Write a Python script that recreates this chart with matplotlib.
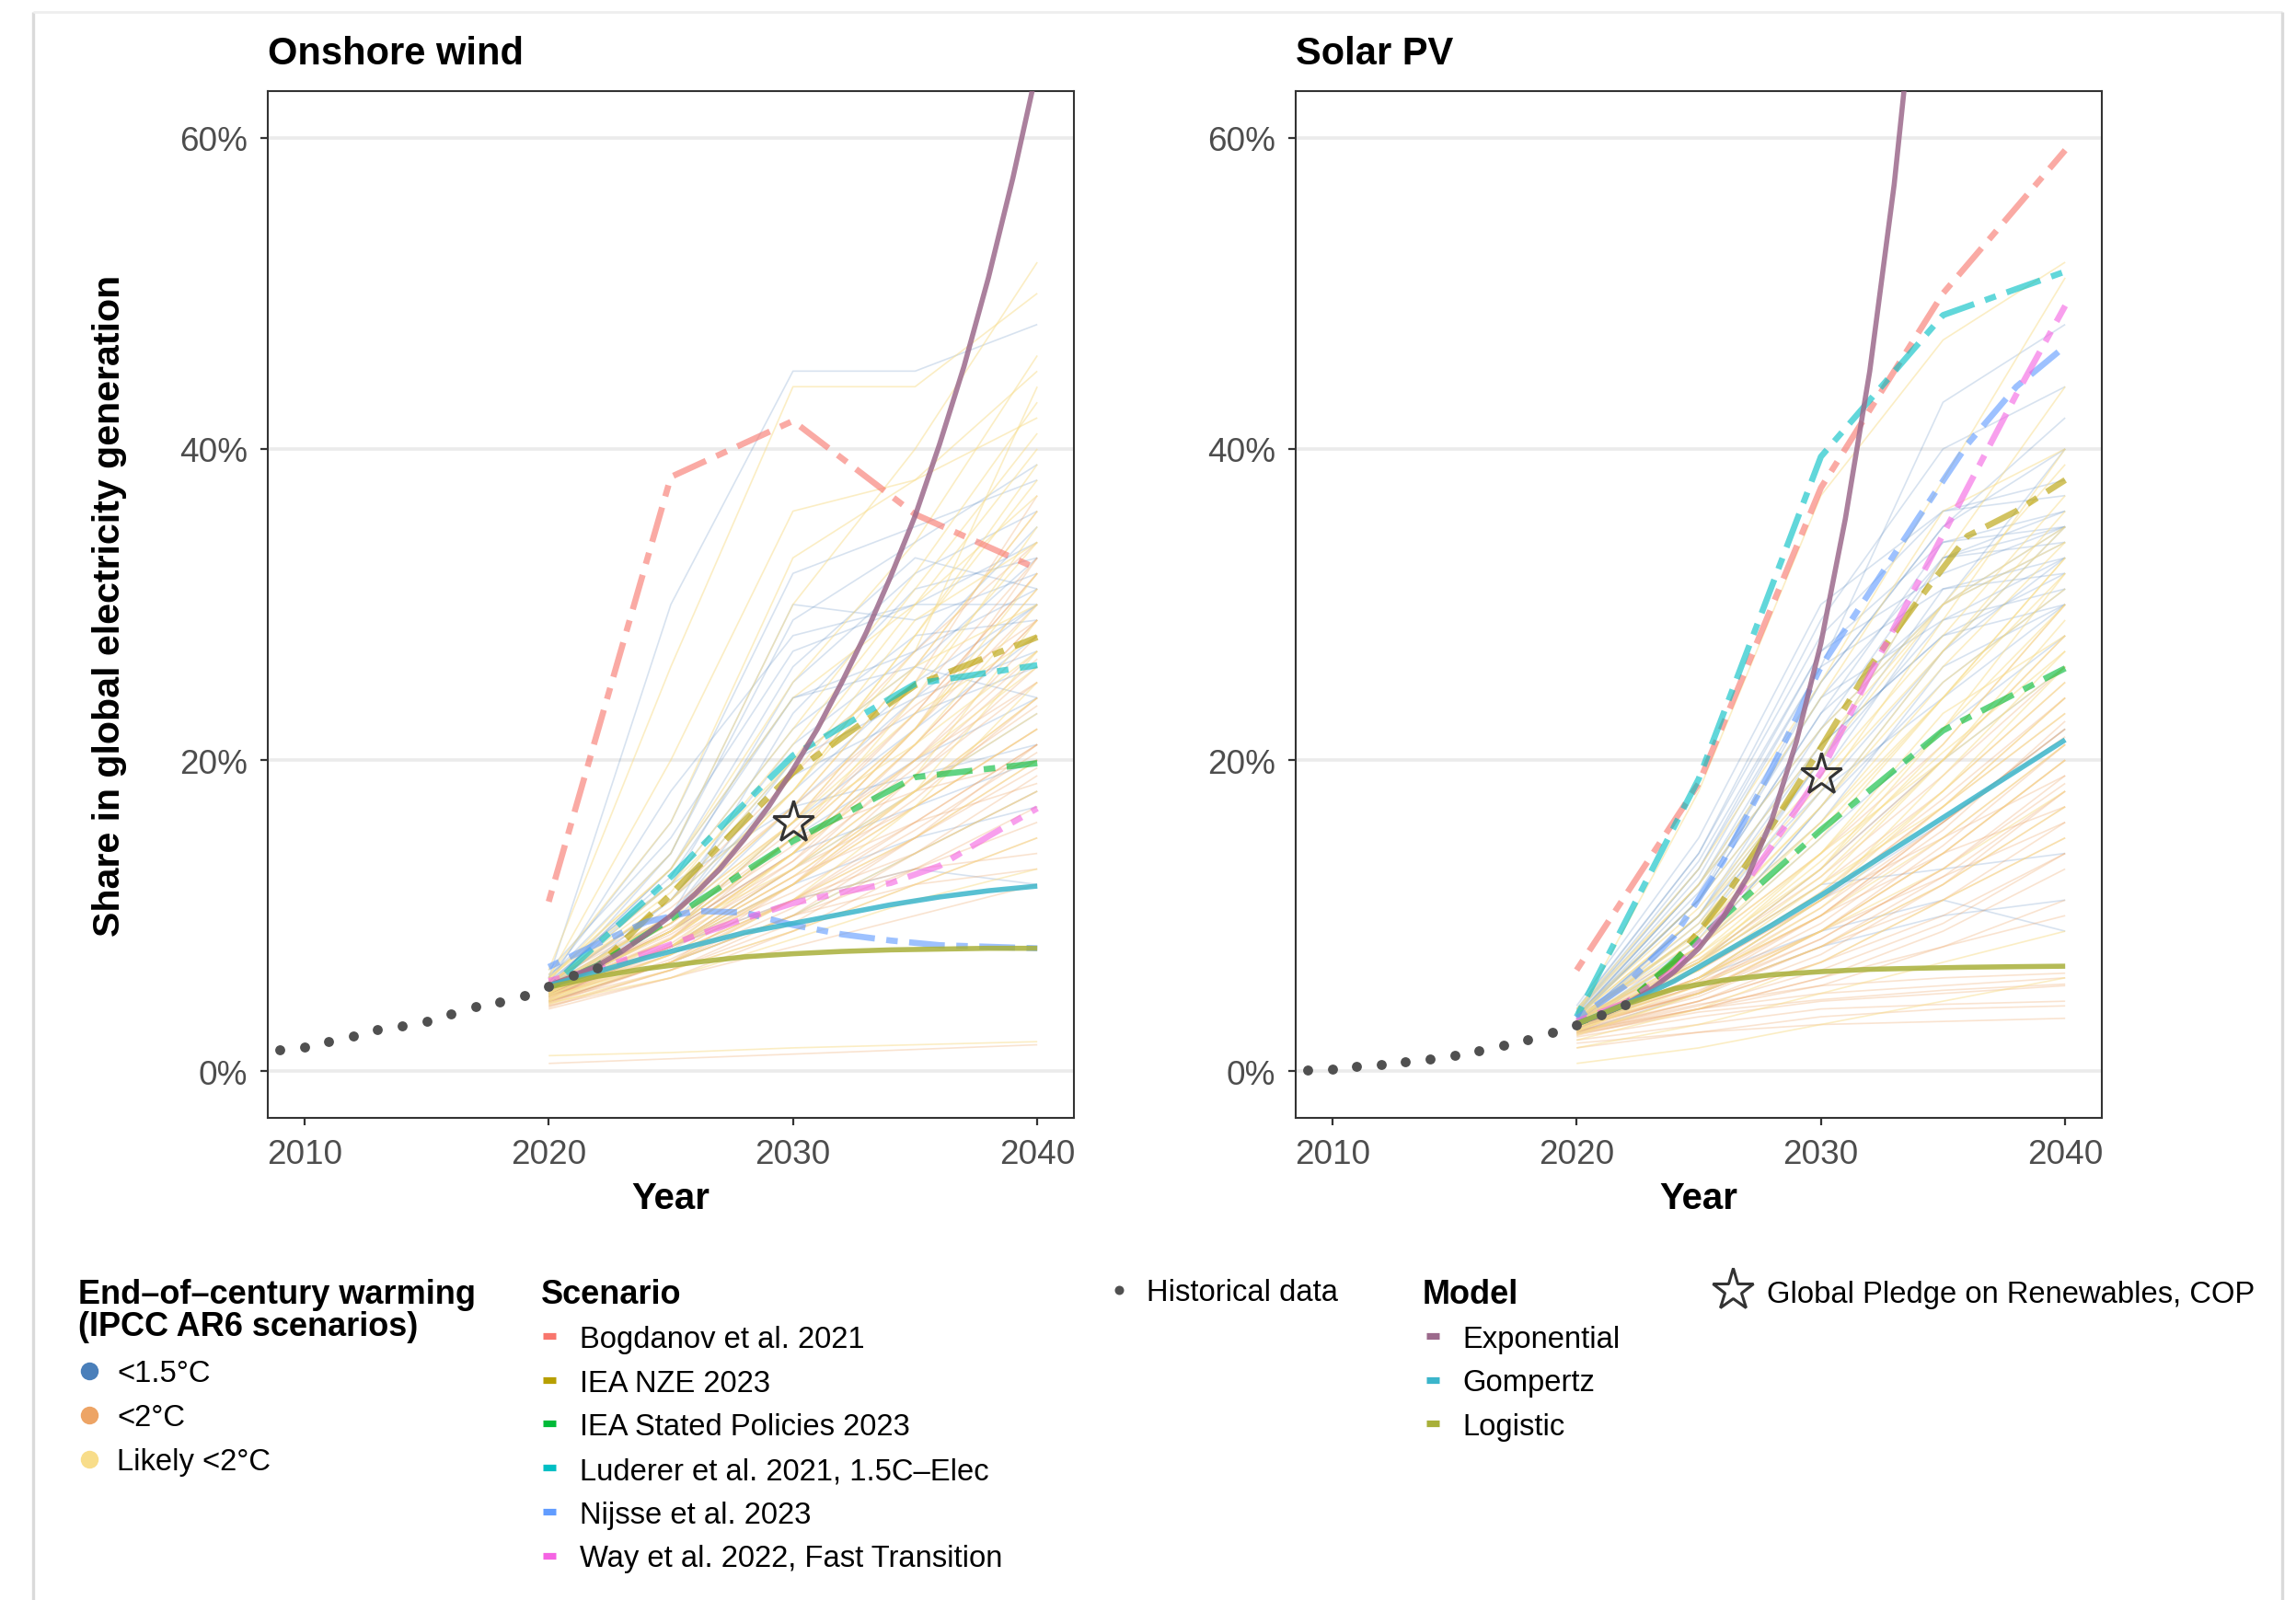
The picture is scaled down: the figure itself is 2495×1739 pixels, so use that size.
import matplotlib
matplotlib.use("Agg")
import matplotlib.pyplot as plt

plt.rcParams['font.family'] = ['Liberation Sans', 'DejaVu Sans']
plt.rcParams['lines.scale_dashes'] = False
plt.rcParams['lines.solid_capstyle'] = 'butt'
plt.rcParams['lines.dash_capstyle'] = 'butt'

W, H, DPI = 2495, 1740, 200

# ---------------- data ----------------
panel_titles = ["Onshore wind", "Solar PV"]
x_ticks = [2010, 2020, 2030, 2040]
y_ticks = [0, 20, 40, 60]
y_ticklabels = ["0%", "20%", "40%", "60%"]

hist_years = list(range(2009, 2023))
hist_wind = [1.36, 1.54, 1.92, 2.26, 2.67, 2.90, 3.23, 3.66, 4.14, 4.45, 4.86, 5.47, 6.15, 6.63]
hist_solar = [0.07, 0.11, 0.34, 0.45, 0.60, 0.80, 1.00, 1.30, 1.65, 2.00, 2.50, 2.99, 3.62, 4.27]

pledge_year = 2030
pledge_wind = 16.0
pledge_solar = 19.05

# IPCC AR6 scenario pathways (values at 2020, 2025, 2030, 2035, 2040)
ipcc_years = [2020, 2025, 2030, 2035, 2040]
warming_categories = ["<1.5°C", "<2°C", "Likely <2°C"]
warming_colors = ["#4A7FBA", "#EDA465", "#F8DD8A"]
warming_alpha = [0.22, 0.30, 0.50]

wind_15 = [
    [5.5, 13, 24, 27, 31], [5.0, 10, 20, 26, 33], [6.0, 14, 30, 29, 32],
    [5.2, 9, 16, 22, 28], [4.8, 8, 13, 18, 23], [5.5, 11, 18, 25, 30],
    [6.5, 15, 27, 30, 34], [6.0, 30, 45, 45, 48], [5.5, 12, 22, 28, 29],
    [4.5, 7, 10, 14, 18], [5.0, 9, 15, 20, 24], [5.8, 12, 25, 32, 36],
    [6.0, 16, 32, 35, 38], [5.3, 10, 19, 23, 26], [5.0, 8, 12, 15, 17],
    [5.5, 13, 26, 33, 31], [4.8, 11, 21, 27, 35], [6.2, 12, 17, 19, 21],
    [5.5, 10, 23, 31, 33], [5.0, 9, 14, 17, 20], [5.6, 18, 28, 30, 30],
    [4.9, 8, 11, 13, 12], [5.4, 11, 20, 24, 27], [5.2, 14, 29, 34, 39],
    [5.7, 12.5, 24, 26, 24], [5.1, 9.5, 17, 24, 30],
]
wind_2 = [
    [5.0, 7.5, 11, 15, 20], [4.5, 7, 10, 13, 16], [5.5, 9, 14, 20, 27],
    [4.2, 6.5, 9, 12, 15], [5.0, 8, 13, 19, 25], [4.8, 8, 12, 17, 22],
    [5.3, 9, 15, 22, 30], [4.0, 6, 8, 10, 12], [5.5, 10, 17, 26, 36],
    [4.6, 7.5, 12, 18, 24], [5.1, 8.5, 14, 21, 29], [4.3, 7, 11, 16, 21],
    [5.8, 10, 16, 24, 33], [4.5, 6.5, 9.5, 14, 19], [5.0, 8, 11, 13, 14],
    [4.9, 7, 10, 12, 13], [5.2, 9, 16, 25, 37], [4.7, 8, 13, 20, 28],
    [5.4, 9.5, 15, 18, 20], [4.4, 7, 12, 19, 26], [5.6, 11, 19, 27, 34],
    [4.2, 6, 9, 13, 17], [5.0, 8.5, 13, 17, 22], [4.8, 7.5, 11, 14, 18],
    [5.3, 9, 14, 22, 31], [4.1, 6.5, 10, 15, 21], [0.5, 0.8, 1.1, 1.4, 1.7],
    [5.0, 8, 12.5, 18, 23.5], [4.6, 8.5, 15, 23, 32], [5.2, 8, 11.5, 16, 21],
    [4.7, 7.8, 12, 17.5, 24], [5.5, 9.5, 15.5, 23, 32], [4.4, 7.2, 11, 15.5, 20.5],
    [5.2, 8.8, 13.5, 19.5, 26.5], [4.9, 8.2, 13.5, 21, 29], [5.3, 9.2, 14.5, 20, 25],
    [4.5, 7, 10.5, 15, 19.5], [5.7, 10.5, 17, 23.5, 29], [4.8, 8, 12.5, 16, 18.5],
    [5.1, 8.6, 14, 22, 33],
]
wind_likely2 = [
    [5.5, 10, 18, 28, 38], [5.0, 9, 15, 24, 35], [4.5, 8, 14, 22, 32],
    [6.0, 12, 22, 32, 43], [5.2, 8, 12, 17, 22], [4.8, 7, 10, 14, 18],
    [5.5, 11, 20, 30, 40], [6.5, 26, 44, 44, 50], [5.8, 14, 30, 40, 52],
    [5.0, 9, 16, 23, 28], [4.7, 7.5, 11, 15, 20], [5.3, 10, 17, 26, 36],
    [6.0, 13, 25, 34, 46], [4.3, 6.5, 9, 12, 15], [5.5, 12, 20, 26, 30],
    [5.0, 8.5, 14, 20, 26], [5.7, 11, 18, 28, 39], [4.6, 7, 11, 17, 25],
    [5.1, 9, 13, 18, 24], [6.2, 16, 33, 38, 42], [5.4, 10, 16, 21, 27],
    [4.9, 8, 13, 19, 29], [1.0, 1.2, 1.5, 1.7, 1.9], [6.0, 20, 36, 38, 45],
    [5.3, 9.5, 19, 29, 34], [4.4, 6, 8.5, 11, 13],
    [5.2, 9.5, 16, 25, 34], [4.8, 8.5, 14, 21, 30], [5.6, 11.5, 21, 31, 41],
    [5.0, 9, 15, 22, 31], [4.5, 7.5, 12, 18, 27], [5.9, 13, 24, 30, 37],
    [5.3, 10, 18, 27, 44], [4.9, 8, 12.5, 18, 23],
]

solar_15 = [
    [3.5, 12, 25, 35, 40], [3.0, 10, 22, 33, 34], [4.0, 14, 28, 36, 38],
    [3.2, 9, 19, 30, 35], [3.8, 13, 26, 43, 48], [2.8, 8, 17, 27, 33],
    [3.5, 11, 23, 34, 35], [3.0, 9, 20, 31, 33], [4.2, 15, 30, 36, 37],
    [3.3, 10, 18, 24, 30], [3.6, 12, 24, 29, 31], [2.9, 7, 13, 20, 26],
    [3.1, 8, 15, 22, 28], [3.7, 13, 27, 32, 35], [3.4, 11, 21, 28, 32],
    [2.7, 6, 11, 16, 22], [3.0, 7, 12, 13, 14], [2.5, 5, 8, 10, 11],
    [3.9, 14, 29, 40, 44], [3.2, 10, 20, 33, 36], [3.5, 12, 22, 30, 40],
    [2.8, 6, 9, 11, 9], [3.3, 9, 16, 26, 30], [3.6, 11, 25, 35, 42],
    [3.4, 11, 23, 30, 34], [3.1, 9.5, 20, 29, 33], [3.7, 12.5, 26, 31, 32],
    [2.9, 8.5, 18, 27, 35], [3.5, 11.5, 24, 33, 35], [3.0, 8, 17, 25, 31],
    [3.8, 13.5, 27, 34, 36], [3.2, 10, 21, 28, 30],
]
solar_2 = [
    [3.0, 5.5, 9, 14, 20], [2.5, 4.5, 7, 11, 16], [3.2, 6, 10, 16, 22],
    [2.8, 5, 8, 12, 18], [3.5, 7, 12, 18, 25], [2.2, 3.5, 4.5, 5, 5.5],
    [2.0, 3, 4, 4.3, 4.5], [2.6, 4, 5, 5.5, 6], [3.0, 6, 11, 17, 24],
    [3.3, 7, 13, 20, 28], [2.4, 4, 6, 9, 13], [2.9, 5, 8.5, 13, 19],
    [3.1, 6.5, 11, 15, 19], [2.7, 4.5, 7, 10, 14], [3.6, 8, 14, 21, 30],
    [1.5, 2.5, 3.5, 4, 4.2], [2.3, 4, 5.5, 8, 11], [3.0, 5.5, 9.5, 15, 21],
    [2.8, 5, 9, 14, 20], [3.4, 6.5, 11, 17, 23], [2.5, 4, 6, 8, 10],
    [1.8, 2.5, 3, 3.2, 3.4], [3.2, 6, 10, 14, 17], [2.6, 4.5, 7.5, 12, 17],
    [3.0, 5, 8, 11, 15], [2.9, 5.5, 10, 16, 22], [2.4, 3.8, 4.6, 5.2, 5.6],
    [2.9, 5.2, 8.5, 13, 18.5], [3.1, 6, 10.5, 16, 21.5], [2.7, 4.8, 8, 12.5, 18],
    [3.3, 6.5, 11.5, 17.5, 24], [2.5, 4.2, 6.5, 9.5, 14], [3.0, 5.8, 10, 15.5, 22.5],
    [2.6, 4.3, 5.5, 6, 6.3], [3.4, 7.2, 12.5, 19, 26], [2.8, 5.1, 9, 14.5, 21],
    [3.2, 5.7, 9, 12.5, 16],
]
solar_likely2 = [
    [3.0, 8, 15, 24, 33], [3.5, 10, 19, 28, 37], [2.5, 6, 11, 18, 26],
    [3.2, 9, 17, 27, 36], [4.0, 13, 25, 38, 51], [2.8, 6.5, 12, 20, 29],
    [3.3, 8.5, 16, 25, 31], [2.0, 4, 7, 11, 15], [3.0, 7, 13, 22, 32],
    [3.6, 11, 21, 30, 34], [2.7, 6, 10, 15, 21], [3.1, 8, 14, 20, 26],
    [3.4, 9, 18, 29, 40], [2.3, 5, 8, 12, 17], [3.8, 12, 22, 30, 35],
    [2.9, 7, 12, 17, 23], [3.2, 7.5, 13, 21, 30], [2.6, 5.5, 9, 13, 18],
    [3.5, 10, 20, 33, 44], [1.5, 3, 5, 7, 9], [3.0, 7, 14, 23, 28],
    [2.8, 6, 11, 19, 27], [4.0, 12, 24, 36, 40], [3.3, 9, 16, 24, 32],
    [0.5, 1.5, 3, 4.5, 6], [3.5, 18, 37, 47, 52],
    [3.1, 7.5, 14, 22, 30], [2.9, 6.8, 12.5, 20, 28], [3.4, 8.8, 17, 26, 34],
    [2.6, 5.8, 10.5, 17, 24], [3.3, 9.5, 18.5, 27, 35], [2.8, 6.5, 11.5, 18, 25],
    [3.6, 10.5, 20, 30, 39], [2.4, 5, 9, 14, 20], [3.0, 7.2, 13.5, 20.5, 27],
    [3.2, 8, 15.5, 24, 33],
]

# Scenarios
scenario_names = ["Bogdanov et al. 2021", "IEA NZE 2023", "IEA Stated Policies 2023",
                  "Luderer et al. 2021, 1.5C–Elec", "Nijsse et al. 2023",
                  "Way et al. 2022, Fast Transition"]
scenario_colors = ["#F8766D", "#B79F00", "#00BA38", "#00BFC4", "#619CFF", "#F564E3"]

five_year = [2020, 2025, 2030, 2035, 2040]
iea_years = [2020, 2022, 2030, 2035, 2040]
two_year = [2020, 2022, 2024, 2026, 2028, 2030, 2032, 2034, 2036, 2038, 2040]

wind_bogdanov = [10.9, 38.2, 41.8, 35.8, 32.3]
wind_nze = [5.4, 6.7, 19.2, 24.8, 27.9]
wind_steps = [5.4, 6.8, 14.8, 18.9, 19.8]
wind_luderer = [5.3, 12.5, 20.3, 24.9, 26.1]
wind_nijsse = [6.7, 8.2, 9.6, 10.3, 10.2, 9.4, 8.8, 8.4, 8.1, 8.0, 7.9]
wind_way = [5.8, 6.6, 7.6, 8.7, 9.8, 10.8, 11.5, 12.1, 13.2, 15.1, 16.9]

solar_bogdanov = [6.5, 18.5, 37.5, 50.0, 59.2]
solar_nze = [3.05, 4.3, 7.0, 11.0, 15.8, 20.8, 26.0, 30.3, 34.4, 36.0, 38.0]
solar_steps = [3.05, 4.3, 15.5, 21.9, 25.9]
solar_luderer = [3.5, 18.8, 39.5, 48.6, 51.4]
solar_nijsse = [3.4, 5.5, 8.7, 13.5, 19.5, 26.0, 30.8, 35.6, 40.3, 44.0, 46.6]
solar_way = [3.2, 4.4, 6.5, 10.0, 14.5, 19.2, 25.5, 31.5, 37.5, 43.5, 49.2]

# Models
model_names = ["Exponential", "Gompertz", "Logistic"]
model_colors = ["#9C6A8C", "#3BB5CB", "#A8B03A"]

wind_exp_years = list(range(2020, 2041))
wind_exponential = [5.5, 6.1, 6.8, 7.7, 8.8, 10.0, 11.4, 13.0, 14.9, 17.0, 19.4,
                    22.0, 25.0, 28.2, 31.8, 35.7, 40.3, 45.3, 51.0, 57.4, 64.5]
wind_gompertz = [5.5, 6.4, 7.3, 8.1, 8.9, 9.5, 10.1, 10.7, 11.2, 11.6, 11.9]
wind_logistic = [5.4, 6.1, 6.6, 7.0, 7.35, 7.55, 7.7, 7.8, 7.85, 7.9, 7.9]

solar_exp_years = list(range(2020, 2035))
solar_exponential = [3.05, 3.6, 4.3, 5.2, 6.4, 7.9, 9.9, 12.5, 16.2, 21.2, 27.5,
                     35.5, 45.0, 57.0, 72.0]
solar_gompertz = [3.05, 4.3, 5.8, 7.6, 9.4, 11.3, 13.3, 15.3, 17.3, 19.3, 21.3]
solar_logistic = [3.05, 4.3, 5.3, 5.85, 6.2, 6.4, 6.55, 6.62, 6.68, 6.72, 6.75]

# ---------------- assemble ----------------
panels = [
    dict(title=panel_titles[0], hist=hist_wind, pledge=pledge_wind,
         ipcc=[wind_15, wind_2, wind_likely2],
         scen=[(five_year, wind_bogdanov), (iea_years, wind_nze), (iea_years, wind_steps),
               (five_year, wind_luderer), (two_year, wind_nijsse), (two_year, wind_way)],
         models=[(wind_exp_years, wind_exponential), (two_year, wind_gompertz),
                 (two_year, wind_logistic)]),
    dict(title=panel_titles[1], hist=hist_solar, pledge=pledge_solar,
         ipcc=[solar_15, solar_2, solar_likely2],
         scen=[(five_year, solar_bogdanov), (two_year, solar_nze), (iea_years, solar_steps),
               (five_year, solar_luderer), (two_year, solar_nijsse), (two_year, solar_way)],
         models=[(solar_exp_years, solar_exponential), (two_year, solar_gompertz),
                 (two_year, solar_logistic)]),
]

fig = plt.figure(figsize=(W / DPI, H / DPI), dpi=DPI)
fig.patch.set_facecolor("white")


def fx(x):
    return x / W


def fy(y):
    return 1 - y / H


# overlay in pixel coordinates for legend / frame
lax = fig.add_axes([0, 0, 1, 1], zorder=0)
lax.set_xlim(0, W)
lax.set_ylim(H, 0)
lax.axis("off")

# screenshot-like border
lax.plot([36, 36], [14, H], color="#DADADA", lw=1.2)
lax.plot([36, 2480], [14, 14], color="#EEEEEE", lw=1.0)
lax.plot([2480, 2480], [14, H], color="#DADADA", lw=1.2)

ax_left_px = [291, 1408]
ax_w_px = 876
ax_top_px, ax_bot_px = 100, 1216

scen_dash = (0, (4.5, 4.5, 14, 4.5))

for i, p in enumerate(panels):
    l = ax_left_px[i]
    ax = fig.add_axes([fx(l), fy(ax_bot_px), ax_w_px / W, (ax_bot_px - ax_top_px) / H], zorder=2)
    ax.set_xlim(2008.5, 2041.5)
    ax.set_ylim(-3, 63)
    ax.set_xticks(x_ticks)
    ax.set_yticks(y_ticks)
    ax.set_yticklabels(y_ticklabels)
    ax.grid(axis="y", color="#EBEBEB", lw=1.3)
    ax.set_axisbelow(True)
    ax.tick_params(length=3, width=0.8, color="#333333", labelsize=13.3,
                   labelcolor="#4D4D4D", pad=5)
    for s in ax.spines.values():
        s.set_color("#333333")
        s.set_linewidth(0.75)

    # IPCC pathways
    for cat, col, a in zip(p["ipcc"], warming_colors, warming_alpha):
        for vals in cat:
            ax.plot(ipcc_years, vals, color=col, lw=0.6, alpha=a, zorder=1)

    # scenarios
    for (yrs, vals), col in zip(p["scen"], scenario_colors):
        ax.plot(yrs, vals, color=col, lw=2.4, alpha=0.62, linestyle=scen_dash, zorder=3)

    # models
    for (yrs, vals), col in zip(p["models"], model_colors):
        ax.plot(yrs, vals, color=col, lw=2.0, alpha=0.85, zorder=4,
                solid_joinstyle="round")

    # historical data
    ax.plot(hist_years, p["hist"], linestyle="none", marker="o", ms=3.9,
            color="#505050", mec="none", zorder=5)

    # pledge star
    ax.plot([pledge_year], [p["pledge"]], marker="*", ms=17, mfc="none",
            mec="#333333", mew=1.1, linestyle="none", zorder=6)

    fig.text(fx(l), fy(70), p["title"], fontsize=15, fontweight="bold",
             ha="left", va="baseline")
    fig.text(fx(l + ax_w_px / 2), fy(1314), "Year", fontsize=14.5, fontweight="bold",
             ha="center", va="baseline")

fig.text(fx(119), fy(658), "Share in global electricity generation", rotation=90,
         fontsize=14.8, fontweight="bold", ha="center", va="center")

# ---------------- legends ----------------
TS = 11.8
TT = 13

# warming
lax.text(85, 1417, "End–of–century warming", fontsize=TT, fontweight="bold", va="baseline")
lax.text(85, 1452, "(IPCC AR6 scenarios)", fontsize=TT, fontweight="bold", va="baseline")
for k, (name, col) in enumerate(zip(warming_categories, warming_colors)):
    base = 1502 + 48 * k
    lax.plot([96.5], [base - 11], marker="o", ms=7, color=col, mec="none")
    lax.text(127, base, name, fontsize=TS, va="baseline")

# scenario
lax.text(588, 1417, "Scenario", fontsize=TT, fontweight="bold", va="baseline")
for k, (name, col) in enumerate(zip(scenario_names, scenario_colors)):
    base = 1465 + 47.7 * k
    lax.plot([590, 604], [base - 12, base - 12], color=col, lw=2.6,
             solid_capstyle="butt")
    lax.text(630, base, name, fontsize=TS, va="baseline")

# historical
lax.plot([1216], [1403], marker="o", ms=3.6, color="#505050", mec="none")
lax.text(1246, 1414, "Historical data", fontsize=TS, va="baseline")

# model
lax.text(1546, 1417, "Model", fontsize=TT, fontweight="bold", va="baseline")
for k, (name, col) in enumerate(zip(model_names, model_colors)):
    base = 1465 + 47.5 * k
    lax.plot([1550, 1564], [base - 12, base - 12], color=col, lw=2.6,
             solid_capstyle="butt")
    lax.text(1589, base, name, fontsize=TS, va="baseline")

# pledge
lax.plot([1883], [1403], marker="*", ms=17, mfc="none", mec="#333333", mew=1.1)
lax.text(1920, 1416, "Global Pledge on Renewables, COP", fontsize=TS, va="baseline")

fig.savefig("out.png", dpi=DPI, facecolor="white")
